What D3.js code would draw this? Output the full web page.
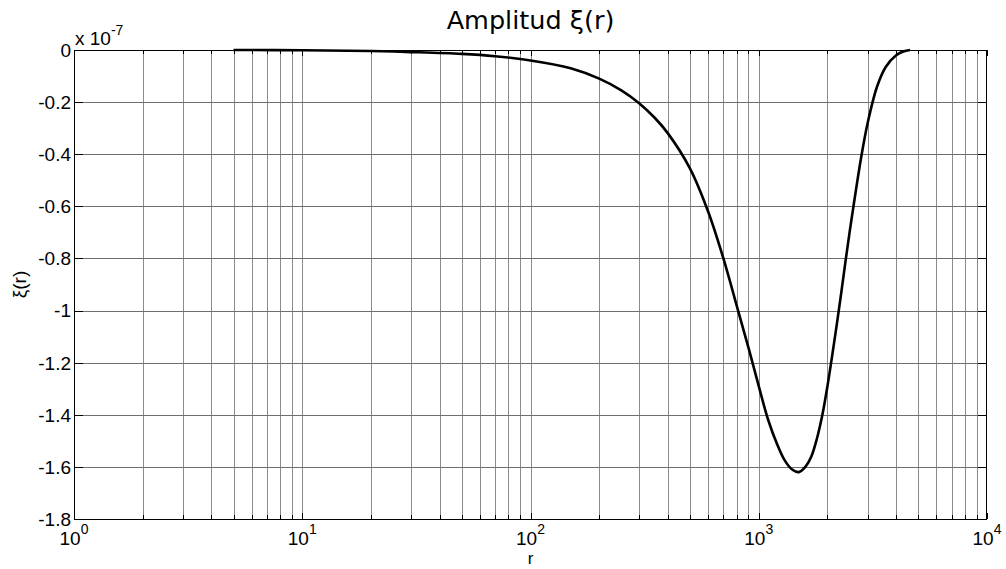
<!DOCTYPE html>
<html><head><meta charset="utf-8">
<script src="https://cdn.jsdelivr.net/npm/d3@7"></script>
<style>body{margin:0;background:#fff}svg{display:block}</style>
</head><body><svg id="c" width="1006" height="569"></svg>
<script>
const rValues = [5,10,20,30,50,70,100,150,200,250,300,350,400,500,600,700,800,900,1000,1100,1200,1300,1400,1500,1600,1700,1800,1900,2000,2100,2200,2300,2400,2500,2600,2800,3000,3300,3600,4000,4300,4600];
const xiValues = [0,-0.001,-0.004,-0.008,-0.015,-0.024,-0.04,-0.07,-0.11,-0.155,-0.205,-0.26,-0.32,-0.455,-0.62,-0.8,-0.98,-1.14,-1.29,-1.42,-1.51,-1.575,-1.61,-1.62,-1.6,-1.56,-1.49,-1.4,-1.29,-1.17,-1.05,-0.93,-0.81,-0.7,-0.6,-0.42,-0.28,-0.14,-0.065,-0.02,-0.006,0];
const yTicks = [0,-0.2,-0.4,-0.6,-0.8,-1,-1.2,-1.4,-1.6,-1.8];
const xMajor = [1,10,100,1000,10000];
const xExp = ["0","1","2","3","4"];
const titleText = "Amplitud ξ(r)";
const xLabel = "r", yLabel = "ξ(r)";

const L=74, T=50, R=987, B=519;
const svg = d3.select("#c");
const x = d3.scaleLog().domain([1,10000]).range([L,R]);
const y = d3.scaleLinear().domain([-1.8,0]).range([B,T]);

const minor = [];
for (let k=0;k<4;k++) for (let m=1;m<10;m++) minor.push(m*Math.pow(10,k));
minor.push(10000);

const g = svg.append("g").attr("shape-rendering","crispEdges");
g.selectAll(".vg").data(minor.filter(v=>v>1&&v<10000)).join("line")
 .attr("x1",d=>Math.round(x(d))+0.5).attr("x2",d=>Math.round(x(d))+0.5)
 .attr("y1",T).attr("y2",B).attr("stroke","#8a8a8a").attr("stroke-width",1);
g.selectAll(".hg").data(yTicks.slice(1,-1)).join("line")
 .attr("y1",d=>Math.round(y(d))+0.5).attr("y2",d=>Math.round(y(d))+0.5)
 .attr("x1",L).attr("x2",R).attr("stroke","#6e6e6e").attr("stroke-width",1);

const tk = svg.append("g").attr("stroke","#000").attr("shape-rendering","crispEdges");
minor.forEach(v=>{
  const xx = Math.round(x(v))+0.5;
  const len = xMajor.includes(v)?6:4;
  tk.append("line").attr("x1",xx).attr("x2",xx).attr("y1",B).attr("y2",B-len);
  tk.append("line").attr("x1",xx).attr("x2",xx).attr("y1",T).attr("y2",T+len);
});
yTicks.forEach(v=>{
  const yy = Math.round(y(v))+0.5;
  tk.append("line").attr("x1",L).attr("x2",L+9).attr("y1",yy).attr("y2",yy);
  tk.append("line").attr("x1",R).attr("x2",R-9).attr("y1",yy).attr("y2",yy);
});

const line = d3.line().x((d,i)=>x(rValues[i])).y(d=>y(d)).curve(d3.curveCatmullRom.alpha(0.5));
svg.append("path").datum(xiValues).attr("d",line).attr("fill","none")
 .attr("stroke","#000").attr("stroke-width",2.6).attr("stroke-linejoin","round");

svg.append("rect").attr("x",L+0.5).attr("y",T+0.5).attr("width",R-L-1).attr("height",B-T)
 .attr("fill","none").attr("stroke","#000").attr("stroke-width",1.6).attr("shape-rendering","crispEdges");

const font = "'Liberation Sans', Arial, sans-serif";
svg.selectAll(".yl").data(yTicks).join("text")
 .attr("x",L-3).attr("y",d=>y(d)).attr("dy","0.36em").attr("text-anchor","end")
 .attr("font-family",font).attr("font-size",19).text(d=>d===0?"0":d3.format("")(d).replace("−","-"));
xMajor.forEach((v,i)=>{
  const t = svg.append("text").attr("x",x(v)).attr("y",545).attr("text-anchor","middle")
   .attr("font-family",font).attr("font-size",19);
  t.append("tspan").text("10");
  t.append("tspan").attr("dy",-11).attr("font-size",14).text(xExp[i]);
});
const m = svg.append("text").attr("x",L+1).attr("y",45).attr("font-family",font).attr("font-size",19);
m.append("tspan").text("x 10");
m.append("tspan").attr("dy",-10).attr("font-size",14).text("-7");

svg.append("text").attr("x",(L+R)/2).attr("y",29).attr("text-anchor","middle")
 .attr("font-family","'DejaVu Sans', Verdana, sans-serif").attr("font-size",25.5).text(titleText);
svg.append("text").attr("x",(L+R)/2).attr("y",564).attr("text-anchor","middle")
 .attr("font-family",font).attr("font-size",17).text(xLabel);
svg.append("text").attr("transform",`translate(26,${(T+B)/2}) rotate(-90)`).attr("text-anchor","middle")
 .attr("font-family",font).attr("font-size",19).text(yLabel);
</script></body></html>
